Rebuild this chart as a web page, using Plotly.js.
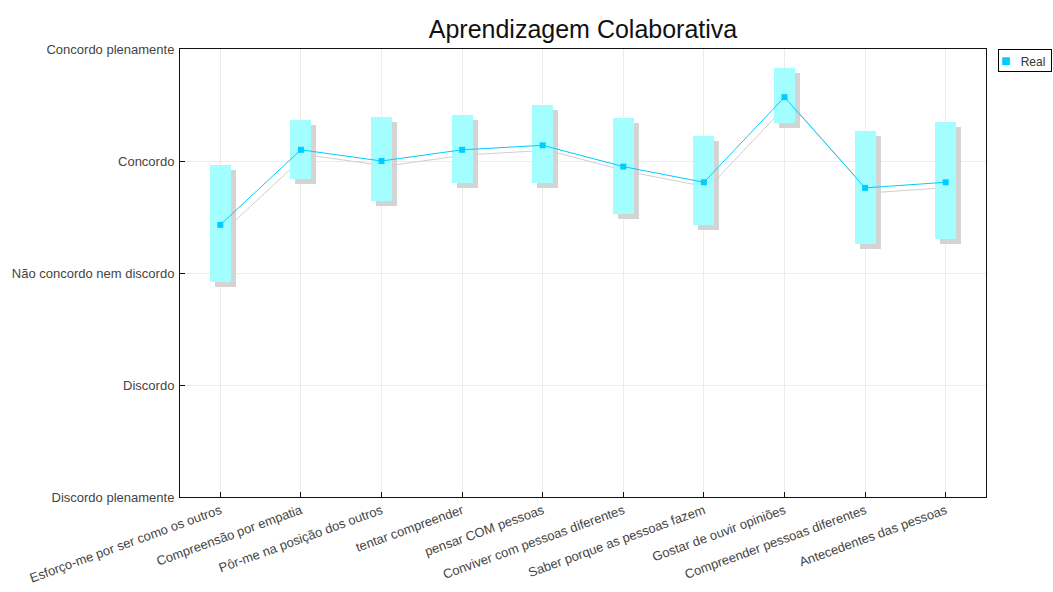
<!DOCTYPE html>
<html>
<head>
<meta charset="utf-8">
<script src="https://cdn.plot.ly/plotly-3.0.1.min.js"></script>
<style>html,body{margin:0;padding:0;background:#fff;}#chart{width:1053px;height:592px;}</style>
</head>
<body>
<div id="chart"></div>
<script>
// ---- data ----
var categories = [
  "Esforço-me por ser como os outros",
  "Compreensão por empatia",
  "Pôr-me na posição dos outros",
  "tentar compreender",
  "pensar COM pessoas",
  "Conviver com pessoas diferentes",
  "Saber porque as pessoas fazem",
  "Gostar de ouvir opiniões",
  "Compreender pessoas diferentes",
  "Antecedentes das pessoas"
];
var meanValues = [3.43, 4.10, 4.00, 4.10, 4.14, 3.95, 3.81, 4.57, 3.76, 3.81];
var lowValues  = [2.92, 3.84, 3.64, 3.80, 3.80, 3.53, 3.43, 4.34, 3.26, 3.30];
var highValues = [3.96, 4.37, 4.39, 4.41, 4.50, 4.38, 4.22, 4.83, 4.27, 4.35];
var yTickValues = [1, 2, 3, 4, 5];
var yTickLabels = ["Discordo plenamente", "Discordo", "Não concordo nem discordo", "Concordo", "Concordo plenamente"];
var seriesName = "Real";

// ---- styling ----
var barColor = "#a3ffff";
var lineColor = "#00ccff";
var shadowColor = "#d4d4d4";
var spans = highValues.map(function (h, i) { return h - lowValues[i]; });

// shadow offset in pixels (converted to axis units)
var plotW = 806, plotH = 448, nCat = categories.length;
var dxUnits = 5 / (plotW / nCat);
var dyUnits = 5 / (plotH / 4);

var traces = [
  // shadows on hidden, shifted axes
  {type: "bar", x: categories, y: spans, base: lowValues, width: 0.26,
   marker: {color: shadowColor, line: {width: 0}}, xaxis: "x", yaxis: "y",
   showlegend: false, hoverinfo: "skip"},
  {type: "scatter", mode: "lines", x: categories, y: meanValues,
   line: {color: "#cfcfcf", width: 1}, xaxis: "x", yaxis: "y",
   showlegend: false, hoverinfo: "skip"},
  // real marks on visible axes
  {type: "bar", x: categories, y: spans, base: lowValues, width: 0.26,
   marker: {color: barColor, line: {width: 0}}, xaxis: "x2", yaxis: "y2",
   showlegend: false},
  {type: "scatter", mode: "lines+markers", x: categories, y: meanValues, name: seriesName,
   line: {color: lineColor, width: 1},
   marker: {color: lineColor, size: 6, symbol: "square"}, xaxis: "x2", yaxis: "y2",
   showlegend: false}
];

var fontFam = "Liberation Sans, Arial, sans-serif";
var tickFont = {family: fontFam, size: 13, color: "#444"};
var layout = {
  width: 1053, height: 592,
  margin: {l: 180, r: 67, t: 49, b: 95, pad: 0, autoexpand: false},
  paper_bgcolor: "#ffffff", plot_bgcolor: "#ffffff",
  font: {family: fontFam, size: 12, color: "#444"},
  title: {text: "Aprendizagem Colaborativa", font: {family: fontFam, size: 25, color: "#111"},
          x: 0.5, xref: "paper", xanchor: "center", y: 0.95, yref: "container", yanchor: "middle"},
  bargap: 0, barmode: "overlay",
  showlegend: false,
  annotations: [{
    xref: "paper", yref: "paper", x: (998 - 180) / plotW, y: 1, xanchor: "left", yanchor: "top",
    showarrow: false, align: "left",
    text: "<span style='color:" + lineColor + ";font-size:16px'>■</span>&nbsp;&nbsp;&nbsp;" + seriesName + "&nbsp;",
    font: {family: fontFam, size: 12, color: "#333"},
    bordercolor: "#000", borderwidth: 1, borderpad: 2, bgcolor: "#fff"
  }],
  xaxis: {type: "category", range: [-0.5 - dxUnits, nCat - 0.5 - dxUnits], visible: false, fixedrange: true},
  yaxis: {range: [1 + dyUnits, 5 + dyUnits], visible: false, fixedrange: true},
  xaxis2: {type: "category", overlaying: "x", side: "bottom", anchor: "y2",
           range: [-0.5, nCat - 0.5], showgrid: true, gridcolor: "#ececec", gridwidth: 1,
           showline: true, linecolor: "#111", linewidth: 1, mirror: true,
           ticks: "inside", ticklen: 5, tickcolor: "#111", tickangle: -20,
           tickfont: tickFont, zeroline: false, automargin: false},
  yaxis2: {overlaying: "y", side: "left", anchor: "x2", range: [1, 5],
           tickvals: yTickValues, ticktext: yTickLabels,
           showgrid: true, gridcolor: "#ececec", gridwidth: 1,
           showline: true, linecolor: "#111", linewidth: 1, mirror: true,
           ticks: "inside", ticklen: 5, tickcolor: "#111", ticklabelstandoff: 2,
           tickfont: tickFont, zeroline: false, automargin: false}
};

Plotly.newPlot("chart", traces, layout, {displayModeBar: false, staticPlot: true});
</script>
</body>
</html>
